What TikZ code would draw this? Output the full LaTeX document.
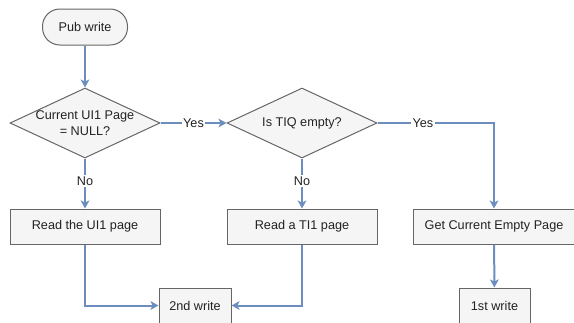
\documentclass[tikz,border=0pt]{standalone}
\usepackage{fontspec}
\setmainfont{Liberation Sans}
\usetikzlibrary{shapes.geometric,arrows.meta}
\definecolor{boxfill}{HTML}{F5F5F5}
\definecolor{boxline}{HTML}{666666}
\definecolor{flow}{HTML}{6C8EBF}
\definecolor{txt}{HTML}{222222}
\begin{document}
\begin{tikzpicture}[x=0.75pt,y=-0.75pt,
  font=\fontsize{9.5}{11.5}\selectfont, text=txt,
  base/.style={draw=boxline,fill=boxfill,line width=0.75pt,inner sep=0pt},
  proc/.style={base,rectangle,minimum width=#1*0.75pt,minimum height=26.25pt},
  proc/.default=150,
  pill/.style={base,rounded corners=13pt,minimum width=63.75pt,minimum height=27pt},
  decision/.style={base,diamond,minimum width=112.5pt,minimum height=52.5pt},
  conn/.style={draw=flow,line width=1.5pt,-{Stealth[length=6pt,width=6.5pt,inset=1.5pt]}},
  lbl/.style={fill=white,inner sep=1pt}]
\useasboundingbox (0,0) rectangle (574,322);
\node[pill] (start) at (85,27) {Pub write};
\node[decision] (d1) at (85,123) {};
\node[align=center] (d1t) at (85,123) {Current UI1 Page\\= NULL?};
\node[decision] (d2) at (302,123) {};
\node (d2t) at (302,123) {Is TIQ empty?};
\node[proc] (r1) at (85,226.5) {Read the UI1 page};
\node[proc] (r2) at (302,226.5) {Read a TI1 page};
\node[proc=162] (r3) at (494,226.5) {Get Current Empty Page};
\node[proc=72] (w2) at (195,305.5) {2nd write};
\node[proc=71] (w1) at (494.5,305.5) {1st write};

\draw[conn] (start) -- (d1);
\draw[conn] (d1.east) -- node[lbl]{Yes} (d2.west);
\draw[conn] (d1.south) -- node[lbl,pos=0.45]{No} (r1.north);
\draw[conn] (d2.south) -- node[lbl,pos=0.45]{No} (r2.north);
\draw[conn] (d2.east) -- node[lbl,pos=0.39]{Yes} (d2.east -| r3.north) -- (r3.north);
\draw[conn] (r3) -- (w1);
\draw[conn] (r1.south) |- (w2.west);
\draw[conn] (r2.south) |- (w2.east);
\end{tikzpicture}
\end{document}
